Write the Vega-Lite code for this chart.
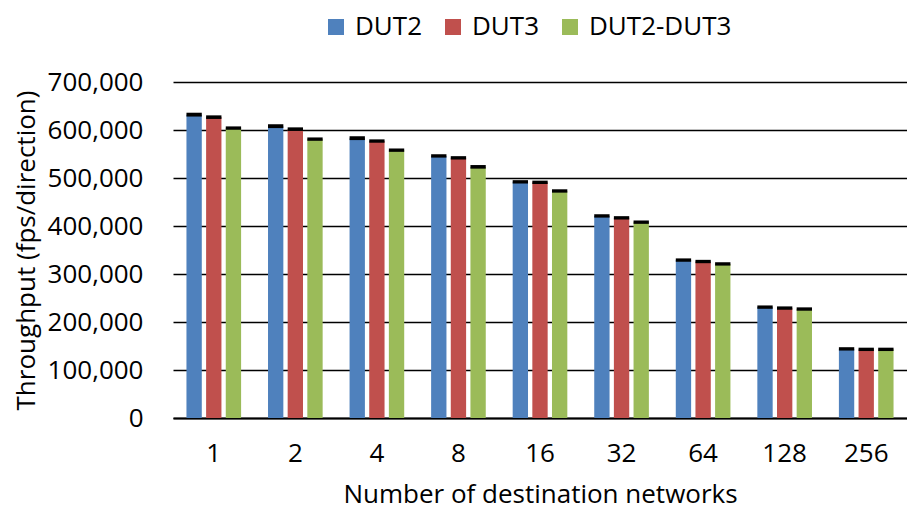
{
  "$schema": "https://vega.github.io/schema/vega-lite/v6.json",
  "width": 734,
  "height": 336,
  "autosize": {"type": "none"},
  "padding": {"left": 173, "top": 82, "right": 0, "bottom": 93},
  "background": "white",
  "config": {
    "font": "Open Sans",
    "view": {"stroke": null}
  },
  "data": {
    "values": [
      {"n": "1", "series": "DUT2", "value": 632000, "lo": 628000, "hi": 636000},
      {"n": "1", "series": "DUT3", "value": 627000, "lo": 623000, "hi": 630500},
      {"n": "1", "series": "DUT2-DUT3", "value": 604000, "lo": 600500, "hi": 607500},
      {"n": "2", "series": "DUT2", "value": 608000, "lo": 604000, "hi": 612000},
      {"n": "2", "series": "DUT3", "value": 602000, "lo": 598000, "hi": 605500},
      {"n": "2", "series": "DUT2-DUT3", "value": 581000, "lo": 577500, "hi": 584500},
      {"n": "4", "series": "DUT2", "value": 583000, "lo": 579000, "hi": 587000},
      {"n": "4", "series": "DUT3", "value": 577000, "lo": 573500, "hi": 580500},
      {"n": "4", "series": "DUT2-DUT3", "value": 558000, "lo": 554500, "hi": 561500},
      {"n": "8", "series": "DUT2", "value": 546000, "lo": 542500, "hi": 549500},
      {"n": "8", "series": "DUT3", "value": 542000, "lo": 538500, "hi": 545500},
      {"n": "8", "series": "DUT2-DUT3", "value": 523000, "lo": 519500, "hi": 527000},
      {"n": "16", "series": "DUT2", "value": 492000, "lo": 488500, "hi": 495500},
      {"n": "16", "series": "DUT3", "value": 491000, "lo": 487500, "hi": 494500},
      {"n": "16", "series": "DUT2-DUT3", "value": 473000, "lo": 469500, "hi": 476500},
      {"n": "32", "series": "DUT2", "value": 421000, "lo": 417500, "hi": 424500},
      {"n": "32", "series": "DUT3", "value": 417000, "lo": 413500, "hi": 420500},
      {"n": "32", "series": "DUT2-DUT3", "value": 408000, "lo": 404500, "hi": 411500},
      {"n": "64", "series": "DUT2", "value": 329000, "lo": 325500, "hi": 332500},
      {"n": "64", "series": "DUT3", "value": 326000, "lo": 322500, "hi": 329500},
      {"n": "64", "series": "DUT2-DUT3", "value": 321000, "lo": 317500, "hi": 324500},
      {"n": "128", "series": "DUT2", "value": 231000, "lo": 227500, "hi": 234500},
      {"n": "128", "series": "DUT3", "value": 229000, "lo": 225500, "hi": 232500},
      {"n": "128", "series": "DUT2-DUT3", "value": 227000, "lo": 223500, "hi": 230500},
      {"n": "256", "series": "DUT2", "value": 144000, "lo": 140500, "hi": 147500},
      {"n": "256", "series": "DUT3", "value": 143000, "lo": 139500, "hi": 146500},
      {"n": "256", "series": "DUT2-DUT3", "value": 143000, "lo": 139500, "hi": 146500}
    ]
  },
  "encoding": {
    "x": {
      "field": "n",
      "type": "nominal",
      "sort": ["1", "2", "4", "8", "16", "32", "64", "128", "256"],
      "scale": {"paddingInner": 0.33, "paddingOuter": 0.165},
      "axis": {
        "title": "Number of destination networks",
        "labelAngle": 0,
        "labelFontSize": 26,
        "labelColor": "#000",
        "labelPadding": 22,
        "titleFontSize": 26,
        "titleFontWeight": "normal",
        "titleColor": "#000",
        "titlePadding": 15,
        "ticks": false,
        "domain": true,
        "domainColor": "#000",
        "domainWidth": 2
      }
    },
    "xOffset": {
      "field": "series",
      "type": "nominal",
      "sort": ["DUT2", "DUT3", "DUT2-DUT3"],
      "scale": {"paddingInner": 0.22}
    }
  },
  "layer": [
    {
      "mark": {"type": "bar"},
      "encoding": {
        "y": {
          "field": "value",
          "type": "quantitative",
          "scale": {"domain": [0, 700000]},
          "axis": {
            "title": "Throughput (fps/direction)",
            "values": [0, 100000, 200000, 300000, 400000, 500000, 600000, 700000],
            "format": ",d",
            "labelFontSize": 26,
            "labelColor": "#000",
            "labelPadding": 30,
            "titleFontSize": 26,
            "titleFontWeight": "normal",
            "titleColor": "#000",
            "titlePadding": 8,
            "ticks": false,
            "domain": false,
            "grid": true,
            "gridColor": "#000",
            "gridWidth": 1.5
          }
        },
        "color": {
          "field": "series",
          "type": "nominal",
          "sort": ["DUT2", "DUT3", "DUT2-DUT3"],
          "scale": {"domain": ["DUT2", "DUT3", "DUT2-DUT3"], "range": ["#4F81BD", "#C0504D", "#9BBB59"]},
          "legend": {
            "title": null,
            "orient": "none",
            "direction": "horizontal",
            "legendX": 150,
            "legendY": -68,
            "symbolType": "square",
            "symbolSize": 256,
            "symbolStrokeWidth": 0,
            "symbolOpacity": 1,
            "labelFontSize": 26,
            "labelColor": "#000",
            "labelOffset": 6,
            "columnPadding": 17
          }
        }
      }
    },
    {
      "mark": {"type": "bar", "color": "#000"},
      "encoding": {
        "y": {"field": "lo", "type": "quantitative"},
        "y2": {"field": "hi"}
      }
    }
  ]
}
